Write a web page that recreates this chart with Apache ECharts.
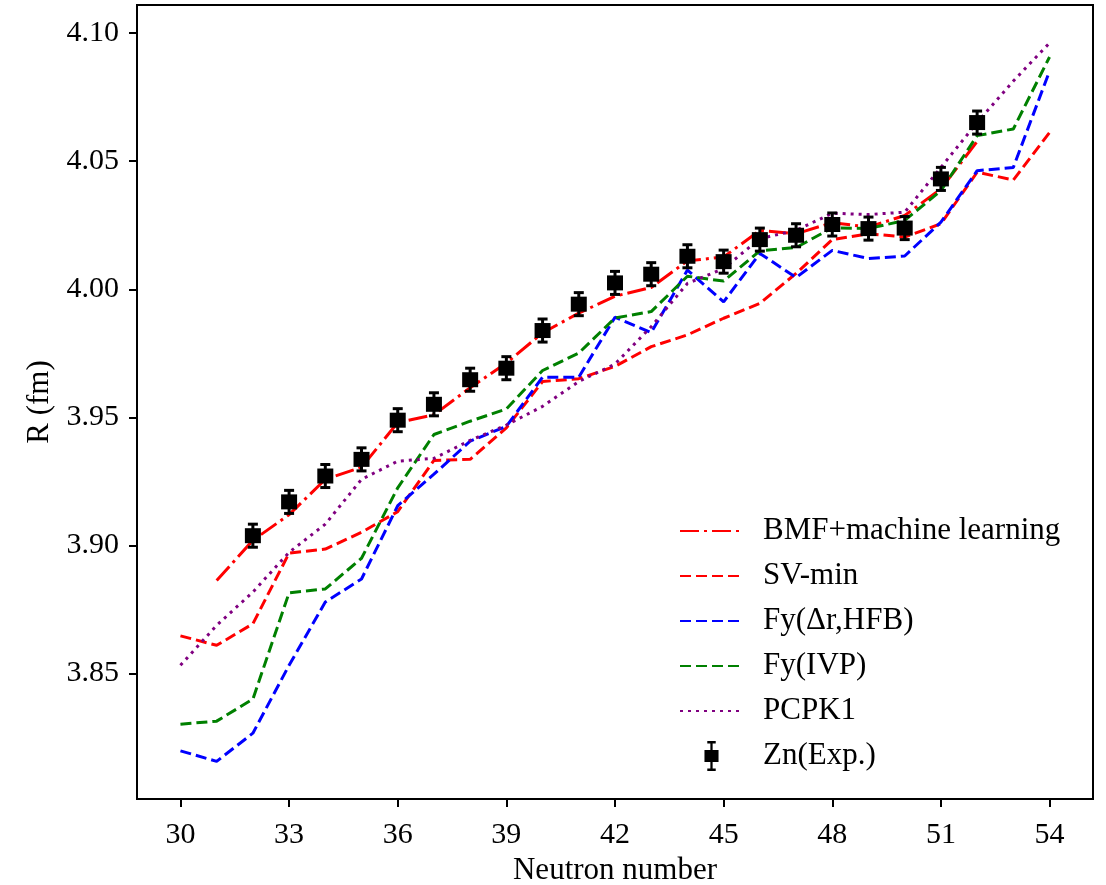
<!DOCTYPE html>
<html><head><meta charset="utf-8">
<script src="https://cdn.jsdelivr.net/npm/echarts@6/dist/echarts.min.js"></script>
<style>html,body{margin:0;padding:0;background:#fff}#c{width:1106px;height:885px}</style>
</head><body><div id="c"></div>
<script>
const neutrons = [30,31,32,33,34,35,36,37,38,39,40,41,42,43,44,45,46,47,48,49,50,51,52,53,54];
const xTicks = [30,33,36,39,42,45,48,51,54];
const yTicks = [3.85,3.90,3.95,4.00,4.05,4.10];

const bmfML  = [null,3.8863,3.9020,3.9120,3.9258,3.9305,3.9480,3.9510,3.9616,3.9712,3.9830,3.9907,3.9973,4.0007,4.0111,4.0126,4.0230,4.0217,4.0260,4.0243,4.0288,4.0392,4.0577,null,null];
const svMin  = [3.8647,3.8610,3.8694,3.8970,3.8986,3.9051,3.9132,3.9332,3.9336,3.9459,3.9640,3.9651,3.9699,3.9776,3.9822,3.9887,3.9945,4.0062,4.0194,4.0217,4.0204,4.0256,4.0457,4.0427,4.0612];
const fyHFB  = [3.8198,3.8157,3.8267,3.8532,3.8779,3.8869,3.9155,3.9278,3.9407,3.9465,3.9657,3.9657,3.9891,3.9831,4.0075,3.9951,4.0140,4.0046,4.0152,4.0120,4.0130,4.0262,4.0463,4.0476,4.0852];
const fyIVP  = [3.8302,3.8314,3.8400,3.8815,3.8830,3.8950,3.9225,3.9433,3.9485,3.9533,3.9683,3.9751,3.9888,3.9913,4.0051,4.0032,4.0150,4.0163,4.0240,4.0237,4.0269,4.0385,4.0600,4.0626,4.0907];
const pcpk1  = [3.8532,3.8688,3.8818,3.8973,3.9083,3.9258,3.9329,3.9340,3.9410,3.9470,3.9543,3.9640,3.9708,3.9854,4.0023,4.0081,4.0198,4.0230,4.0297,4.0292,4.0301,4.0476,4.0651,4.0813,4.0962];
const znExp  = [null,null,3.9038,3.9170,3.9271,3.9336,3.9489,3.9551,3.9647,3.9692,3.9839,3.9942,4.0025,4.0059,4.0129,4.0108,4.0194,4.0211,4.0253,4.0237,4.0239,4.0431,4.0651,null,null];
const znErr  = [null,null,0.0045,0.0045,0.0045,0.0045,0.0045,0.0045,0.0045,0.0045,0.0045,0.0045,0.0045,0.0045,0.0045,0.0045,0.0045,0.0045,0.0045,0.0045,0.0045,0.0045,0.0045,null,null];

const FONT = '"Liberation Serif","Times New Roman",serif';
const pairs = arr => neutrons.map((n, i) => [n, arr[i]]);
const expPts = neutrons.map((n, i) => [n, znExp[i]]).filter(p => p[1] != null);
const errPts = neutrons.map((n, i) => [n, znExp[i], znErr[i]]).filter(p => p[1] != null);

const errIcon = 'path://M27 0H36V2.6H27Z M30.3 0H32.7V32H30.3Z M24 9.5H39V22.5H24Z M27 29.4H36V32H27Z';

function lineSeries(name, data, color, dash) {
  return {
    name, type: 'line', data: pairs(data), symbol: 'none', z: 2,
    lineStyle: { color, width: 3, type: dash, cap: 'butt' },
    itemStyle: { color },
    connectNulls: false
  };
}
const hideSym = { opacity: 0 };

const chart = echarts.init(document.getElementById('c'), null, { renderer: 'canvas' });
chart.setOption({
  animation: false,
  backgroundColor: '#fff',
  grid: { left: 137, right: 13, top: 5, bottom: 86, show: true, borderColor: '#000', borderWidth: 2, backgroundColor: 'transparent', containLabel: false, outerBoundsMode: 'none' },
  xAxis: {
    type: 'value', min: 28.8, max: 55.2,
    name: 'Neutron number', nameLocation: 'middle', nameGap: 56,
    nameTextStyle: { fontFamily: FONT, fontSize: 31, color: '#000' },
    axisLine: { show: true, lineStyle: { color: '#000', width: 2 } },
    axisTick: { show: true, inside: false, length: 8, lineStyle: { color: '#000', width: 2 }, customValues: xTicks },
    axisLabel: { customValues: xTicks, fontFamily: FONT, fontSize: 30, color: '#000', margin: 21 },
    splitLine: { show: false }
  },
  yAxis: {
    type: 'value', min: 3.801, max: 4.111,
    name: 'R (fm)', nameLocation: 'middle', nameGap: 71, nameRotate: 90,
    nameTextStyle: { fontFamily: FONT, fontSize: 31, color: '#000' },
    axisLine: { show: true, lineStyle: { color: '#000', width: 2 } },
    axisTick: { show: true, inside: false, length: 8, lineStyle: { color: '#000', width: 2 }, customValues: yTicks },
    axisLabel: { customValues: yTicks, fontFamily: FONT, fontSize: 30, color: '#000', margin: 18, formatter: v => v.toFixed(2) },
    splitLine: { show: false }
  },
  legend: {
    orient: 'vertical', left: 674, top: 508,
    itemWidth: 63, itemHeight: 30, itemGap: 9,
    textStyle: { fontFamily: FONT, fontSize: 31, color: '#000', lineHeight: 36, padding: [0, 0, 0, 15] },
    data: [
      { name: 'BMF+machine learning', itemStyle: hideSym },
      { name: 'SV-min', itemStyle: hideSym },
      { name: 'Fy(\u0394r,HFB)', itemStyle: hideSym },
      { name: 'Fy(IVP)', itemStyle: hideSym },
      { name: 'PCPK1', itemStyle: hideSym },
      { name: 'Zn(Exp.)', icon: errIcon, itemStyle: { color: '#000', opacity: 1 } }
    ]
  },
  series: [
    lineSeries('BMF+machine learning', bmfML, '#ff0000', [19, 5, 3, 5]),
    lineSeries('SV-min', svMin, '#ff0000', [11, 5]),
    lineSeries('Fy(\u0394r,HFB)', fyHFB, '#0000ff', [11, 5]),
    lineSeries('Fy(IVP)', fyIVP, '#008000', [11, 5]),
    lineSeries('PCPK1', pcpk1, '#800080', [3, 5]),
    {
      name: 'ZnErr', type: 'custom', data: errPts, z: 3,
      encode: { x: 0, y: 1 },
      renderItem: function (params, api) {
        const x = api.value(0), y = api.value(1), e = api.value(2);
        const t = api.coord([x, y + e]), b = api.coord([x, y - e]);
        const cw = 5, st = { stroke: '#000', lineWidth: 3 };
        return { type: 'group', children: [
          { type: 'line', shape: { x1: t[0], y1: t[1], x2: b[0], y2: b[1] }, style: st },
          { type: 'line', shape: { x1: t[0] - cw, y1: t[1], x2: t[0] + cw, y2: t[1] }, style: st },
          { type: 'line', shape: { x1: b[0] - cw, y1: b[1], x2: b[0] + cw, y2: b[1] }, style: st }
        ] };
      }
    },
    {
      name: 'Zn(Exp.)', type: 'scatter', data: expPts, z: 4,
      symbol: 'rect', symbolSize: [16, 15],
      itemStyle: { color: '#000', opacity: 1 }
    }
  ]
});
</script>
</body></html>
